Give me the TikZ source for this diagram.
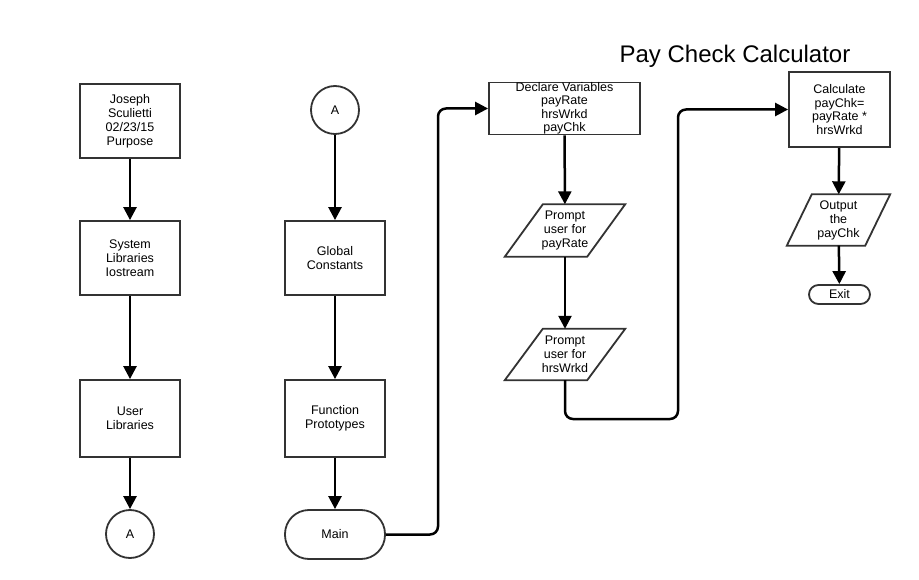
\documentclass[tikz,border=0pt]{standalone}
\usepackage{fontspec}
\setmainfont{Liberation Sans}
\usetikzlibrary{arrows.meta}
\definecolor{edge}{HTML}{333333}
\tikzset{
  basefont/.style={font=\fontsize{12.5}{14}\selectfont, align=center},
  procbox/.style={basefont, draw=edge, line width=1.8pt, fill=white, minimum width=100pt, inner sep=0pt},
  conn/.style={basefont, draw=edge, line width=1.8pt, circle, minimum size=48pt, inner sep=0pt},
  term/.style={basefont, draw=edge, line width=1.8pt, rounded corners=24pt, minimum width=100pt, minimum height=49pt, inner sep=0pt},
  ioshape/.style={basefont, minimum height=52pt, inner sep=0pt},
  iodraw/.style={draw=edge, line width=1.8pt},
  flow/.style={line width=2.5pt, black, -{Triangle[length=13pt,width=13pt]}},
}
\begin{document}
\begin{tikzpicture}[x=1pt,y=-1pt]
\useasboundingbox[fill=white] (0,0) rectangle (919,580);

\node[font=\fontsize{24}{28}\selectfont] (title) at (735,56) {Pay Check Calculator};

% column 1
\node[procbox, minimum height=74pt] (b1) at (130,121) {Joseph\\ Sculietti\\02/23/15\\Purpose};
\node[procbox, minimum height=74pt] (b2) at (130,258) {System\\Libraries\\ Iostream};
\node[procbox, minimum height=77pt] (b3) at (130,418.5) {User\\Libraries};
\node[conn] (a1) at (130,534) {A};

% column 2
\node[conn] (a2) at (335,110) {A};
\node[procbox, minimum height=74pt] (gc) at (335,258) {Global\\Constants};
\node[procbox, minimum height=77pt] (fp) at (335,418.5) {Function\\Prototypes};
\node[term] (main) at (335,534.5) {Main};

% column 3
\node[procbox, minimum width=151pt, minimum height=49pt, fill=none, font=\fontsize{12.5}{13.5}\selectfont] (decl) at (564.5,108.5) {Declare Variables\\payRate\\hrsWrkd\\payChk};
\node[ioshape, minimum width=120pt] (pr) at (565,230.5) {Prompt\\ user for\\payRate};
\draw[iodraw] (pr.south west) -- ([xshift=38pt]pr.north west) -- (pr.north east) -- ([xshift=-38pt]pr.south east) -- cycle;
\node[ioshape, minimum width=120pt, minimum height=51pt] (hw) at (565,354.5) {Prompt\\ user for\\hrsWrkd};
\draw[iodraw] (hw.south west) -- ([xshift=38pt]hw.north west) -- (hw.north east) -- ([xshift=-38pt]hw.south east) -- cycle;

% column 4
\node[procbox, minimum width=101pt, minimum height=75pt, font=\fontsize{12.5}{13.7}\selectfont] (calc) at (839.5,109.5) {Calculate\\payChk=\\payRate *\\hrsWrkd};
\node[ioshape, minimum width=103pt, minimum height=51pt] (out) at (838.5,220) {Output\\the\\payChk};
\draw[iodraw] (out.south west) -- ([xshift=25pt]out.north west) -- (out.north east) -- ([xshift=-25pt]out.south east) -- cycle;
\node[term, minimum width=61pt, minimum height=19pt, rounded corners=9.5pt] (exit) at (839.5,294.5) {Exit};

% connectors
\draw[flow] (b1) -- (b2);
\draw[flow] (b2) -- (b3);
\draw[flow] (b3) -- (a1);
\draw[flow] (a2) -- (gc);
\draw[flow] (gc) -- (fp);
\draw[flow] (fp) -- (main);
\coordinate (k1) at (438,300);
\draw[flow, rounded corners=8pt] (main.east) -| (k1) |- (decl.west);
\draw[flow] (decl) -- (pr);
\draw[flow] (pr) -- (hw);
\coordinate (k2) at (678,419);
\draw[flow, rounded corners=8pt] (hw.south) |- (k2) |- (calc.west);
\draw[flow] (calc) -- (out);
\draw[flow] (out) -- (exit);
\end{tikzpicture}
\end{document}
